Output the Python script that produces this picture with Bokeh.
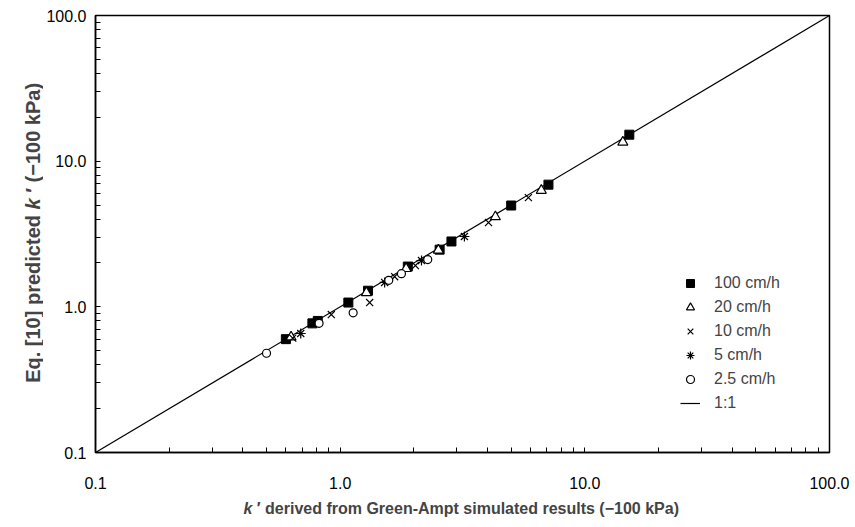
import math
from bokeh.plotting import figure
from bokeh.layouts import column, row
from bokeh.models import FixedTicker, PrintfTickFormatter, Label, Legend, LegendItem, Range1d
from bokeh.embed import file_html
from bokeh.resources import INLINE

# ---- data ----
sq_x = [0.60, 0.77, 0.81, 1.08, 1.30, 1.89, 2.55, 2.85, 5.0, 7.1, 15.2]
sq_y = [0.60, 0.77, 0.80, 1.07, 1.29, 1.89, 2.47, 2.81, 4.96, 6.9, 15.2]
tri_x = [0.63, 1.28, 1.86, 2.52, 4.31, 6.64, 14.3]
tri_y = [0.62, 1.25, 1.83, 2.45, 4.15, 6.30, 13.5]
x10_x = [0.64, 0.92, 1.32, 1.67, 2.03, 4.04, 5.88]
x10_y = [0.61, 0.885, 1.07, 1.61, 1.92, 3.79, 5.62]
ast_x = [0.69, 1.52, 2.15, 3.22]
ast_y = [0.656, 1.47, 2.08, 3.04]
cir_x = [0.50, 0.82, 1.13, 1.58, 1.78, 2.28]
cir_y = [0.48, 0.77, 0.91, 1.52, 1.69, 2.11]
one_x = [0.1, 100]
one_y = [0.1, 100]
major_ticks = [0.1, 1, 10, 100]
minor_ticks = [m * d for d in (0.1, 1, 10) for m in range(2, 10)]
series_names = ["100 cm/h", "20 cm/h", "10 cm/h", "5 cm/h", "2.5 cm/h", "1:1"]
x_title = ["k", "\u00a0\u2032 derived from Green-Ampt simulated results (\u2212100 kPa)"]
y_title = ["Eq. [10] predicted\u00a0", "k", "\u00a0\u2032 (\u2212100 kPa)"]

FONT = "Liberation Sans"
W, H = 855, 527
FL, FR, FT, FB = 93, 829, 15, 452   # frame edges in the page (px)
YT_W = 43                            # width of the strip holding the y title
MAIN_H = 496                         # height of main plot (rest holds the x title)

p = figure(width=W - YT_W, height=MAIN_H, x_axis_type="log", y_axis_type="log",
           x_range=Range1d(0.1, 100), y_range=Range1d(0.1, 100),
           output_backend="svg", toolbar_location=None,
           min_border_left=FL - YT_W, min_border_right=W - FR,
           min_border_top=FT, min_border_bottom=MAIN_H - FB)
p.xgrid.visible = False
p.ygrid.visible = False
p.outline_line_color = "black"
p.outline_line_width = 1.5
p.background_fill_color = "white"
p.border_fill_color = "white"

for ax, stand in ((p.xaxis[0], 24), (p.yaxis[0], 9)):
    ax.ticker = FixedTicker(ticks=major_ticks, minor_ticks=minor_ticks)
    ax.formatter = PrintfTickFormatter(format="%.1f")
    ax.axis_line_color = "black"
    ax.axis_line_width = 1.5
    ax.major_tick_in = 5
    ax.major_tick_out = 0
    ax.minor_tick_in = 5
    ax.minor_tick_out = 0
    ax.major_tick_line_color = "black"
    ax.minor_tick_line_color = "black"
    ax.major_label_text_font = FONT
    ax.major_label_text_font_size = "16px"
    ax.major_label_text_color = "black"
    ax.major_label_standoff = stand

r_line = p.line(one_x, one_y, line_color="black", line_width=1.2)
r_sq = p.scatter(sq_x, sq_y, marker="square", size=9, fill_color="black", line_color="black")
r_tri = p.scatter(tri_x, tri_y, marker="triangle", size=10, fill_color="white", line_color="black", line_width=1.2)
r_x = p.scatter(x10_x, x10_y, marker="x", size=10, line_color="black", line_width=1.2)
r_ast = p.scatter(ast_x, ast_y, marker="asterisk", size=10, line_color="black", line_width=1.2)
r_cir = p.scatter(cir_x, cir_y, marker="circle", size=8, fill_color="white", line_color="black", line_width=1.2)

legend = Legend(items=[LegendItem(label=n, renderers=[r]) for n, r in
                       zip(series_names, [r_sq, r_tri, r_x, r_ast, r_cir, r_line])],
                location=(585, 39), orientation="vertical",
                border_line_color=None, background_fill_alpha=0,
                padding=0, margin=0, spacing=4, glyph_width=20, glyph_height=20,
                label_height=20, label_standoff=14,
                label_text_font=FONT, label_text_font_size="16px")
p.add_layout(legend, "center")

# ---- axis titles (mixed bold / bold italic) drawn in two blank strips ----
def w(units, fs):
    return units * fs / 1000.0

def blank(width, height):
    f = figure(width=width, height=height, x_axis_type=None, y_axis_type=None,
               x_range=Range1d(0, width), y_range=Range1d(0, height),
               output_backend="svg", toolbar_location=None,
               min_border_left=0, min_border_right=0, min_border_top=0, min_border_bottom=0)
    f.outline_line_color = None
    f.xgrid.visible = False
    f.ygrid.visible = False
    f.background_fill_color = "white"
    f.border_fill_color = "white"
    return f

# y title strip
YFS = 20
yt = blank(YT_W, MAIN_H)
widths_y = [w(8669, YFS), w(556, YFS), w(5809, YFS)]
yc = 220
ypos = yc - sum(widths_y) / 2
for txt, wd, style in zip(y_title, widths_y, ["bold", "bold italic", "bold"]):
    yt.add_layout(Label(x=32, y=ypos, x_units="screen", y_units="screen", text=txt,
                        angle=math.pi / 2, text_font=FONT, text_font_size=f"{YFS}px",
                        text_font_style=style, text_baseline="middle", text_align="left"))
    ypos += wd

# x title strip
XFS = 16
XT_H = H - MAIN_H
xt = blank(W, XT_H)
widths_x = [w(556, XFS), w(26701, XFS)]
xpos = (FL + FR) / 2 - sum(widths_x) / 2
ty = H - 508
for txt, wd, style in zip(x_title, widths_x, ["bold italic", "bold"]):
    xt.add_layout(Label(x=xpos, y=ty, x_units="screen", y_units="screen", text=txt,
                        text_font=FONT, text_font_size=f"{XFS}px", text_font_style=style,
                        text_baseline="middle", text_align="left"))
    xpos += wd

layout = column(row(yt, p, spacing=0), xt, spacing=0)
open("out.html", "w").write(file_html(layout, INLINE))
